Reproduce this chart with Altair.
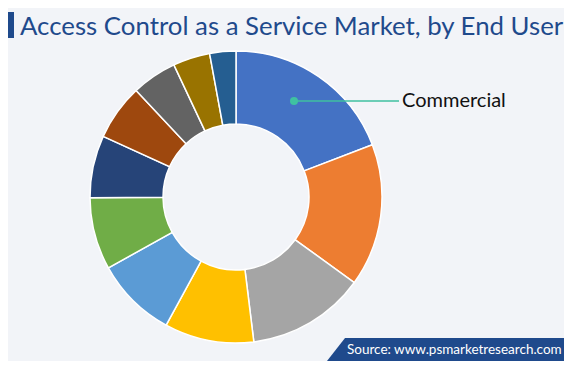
import altair as alt
import pandas as pd

# Data (shares of the donut, clockwise from 12 o'clock)
segments = ["Commercial", "Residential", "Government", "Healthcare", "Education",
            "Retail", "BFSI", "Manufacturing", "Transportation", "Hospitality", "Others"]
shares = [19.2, 15.8, 13.1, 9.9, 9.0, 8.0, 6.9, 6.2, 5.0, 4.1, 2.9]
colors = ["#4472C4", "#ED7D31", "#A5A5A5", "#FFC000", "#5B9BD5", "#70AD47",
          "#264478", "#9E480E", "#636363", "#997300", "#255E91"]

title_text = "Access Control as a Service Market, by End User"
label_text = "Commercial"
source_text = "Source: www.psmarketresearch.com"

BG = "#F2F4F8"
NAVY = "#1F4A8C"
TEAL = "#3FC1A1"

df = pd.DataFrame({"segment": segments, "share": shares, "idx": list(range(len(segments)))})

W, H = 556, 353
CX, CY = 228, 189

donut = alt.Chart(df).mark_arc(radius=146, radius2=73, stroke="white", strokeWidth=1.5).encode(
    theta=alt.Theta("share:Q", stack=True),
    order=alt.Order("idx:Q"),
    color=alt.Color("segment:N", scale=alt.Scale(domain=segments, range=colors), legend=None),
    x=alt.value(CX),
    y=alt.value(CY),
)

one = alt.Data(values=[{}])

bar = alt.Chart(one).mark_rect(color=NAVY).encode(
    x=alt.value(0), x2=alt.value(6), y=alt.value(4), y2=alt.value(30)
)

title = alt.Chart(one).mark_text(
    text=title_text, font="Lato", fontSize=25.8, color=NAVY, align="left", baseline="alphabetic"
).encode(x=alt.value(12), y=alt.value(27))

leader = alt.Chart(one).mark_rule(color=TEAL, strokeWidth=1.5).encode(
    x=alt.value(286), x2=alt.value(391), y=alt.value(93)
)
dot = alt.Chart(one).mark_circle(color=TEAL, opacity=1, size=64).encode(
    x=alt.value(286), y=alt.value(93)
)
label = alt.Chart(one).mark_text(
    text=label_text, font="Lato", fontSize=20, color="#111111", align="left", baseline="alphabetic"
).encode(x=alt.value(394), y=alt.value(99))

# slanted source box (custom symbol, unit coords scaled to 245 px)
src_box = alt.Chart(one).mark_point(
    shape="M -1 0.0939 L -0.853 -0.0939 L 1 -0.0939 L 1 0.0939 Z",
    filled=True, color=NAVY, opacity=1, size=245 * 245, strokeWidth=0,
).encode(x=alt.value(441.5), y=alt.value(341.5))

src_text = alt.Chart(one).mark_text(
    text=source_text, font="Lato", fontSize=13.5, color="white", align="left", baseline="alphabetic"
).encode(x=alt.value(339), y=alt.value(346))

chart = alt.layer(donut, bar, title, leader, dot, label, src_box, src_text).properties(
    width=W, height=H, background=BG, padding=0,
    autosize=alt.AutoSizeParams(type="none"),
).configure_view(stroke=None)

chart.save("out.html", embed_options={"renderer": "svg", "actions": False})
